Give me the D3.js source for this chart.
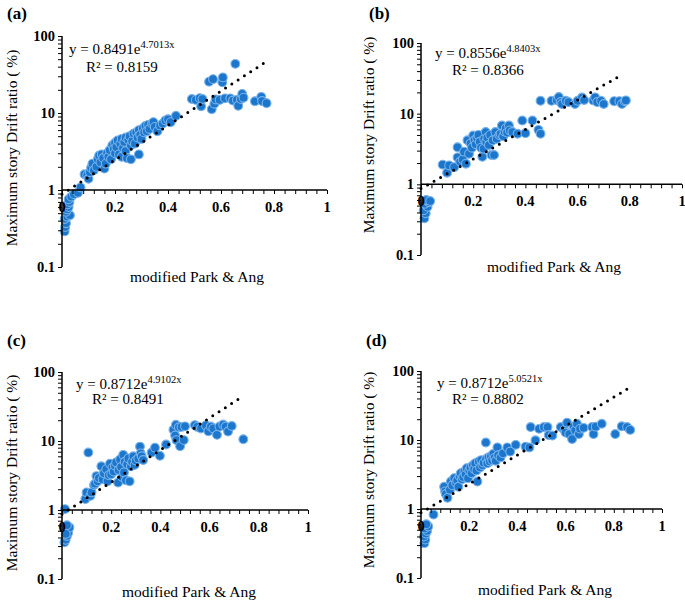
<!DOCTYPE html>
<html><head><meta charset="utf-8">
<script src="https://cdn.jsdelivr.net/npm/d3@7"></script>
<style>body{margin:0;background:#fff}svg{display:block}</style>
</head><body><svg id="c" width="685" height="601"></svg>
<script>
// ---------- data ----------
const panelLabels = ["(a)", "(b)", "(c)", "(d)"];
const eqCoef = ["0.8491", "0.8556", "0.8712", "0.8712"];
const eqExp = ["4.7013x", "4.8403x", "4.9102x", "5.0521x"];
const r2Vals = ["0.8159", "0.8366", "0.8491", "0.8802"];
const xTicks = [0, 0.2, 0.4, 0.6, 0.8, 1];
const xTickLabels = ["0", "0.2", "0.4", "0.6", "0.8", "1"];
const yTicks = [0.1, 1, 10, 100];
const yTickLabels = ["0.1", "1", "10", "100"];
const yTitle = "Maximum story Drift ratio ( %)";
const xTitle = "modified Park & Ang";
// trend line endpoints as drawn [x, y]
const trendA = [[0, 0.88], [0.76, 44]];
const trendB = [[0, 0.87], [0.77, 35.5]];
const trendC = [[0, 0.87], [0.737, 45]];
const trendD = [[0, 0.88], [0.868, 58]];

const aPts = [[0.01,0.29],[0.012,0.33],[0.015,0.37],[0.01,0.42],[0.02,0.45],[0.03,0.47],[0.015,0.52],[0.02,0.56],[0.025,0.6],[0.02,0.65],[0.028,0.7],[0.025,0.76],[0.035,0.82],[0.045,0.88],[0.06,0.92],[0.07,1.08],
[0.085,1.6],[0.095,1.55],[0.1,1.4],[0.105,1.7],[0.11,1.95],[0.115,2.2],[0.12,1.8],[0.13,2.0],[0.135,2.5],[0.14,2.8],[0.145,2.3],[0.15,2.9],[0.155,2.6],[0.16,1.9],[0.165,2.2],[0.17,3.0],[0.175,2.7],[0.18,3.3],[0.185,2.5],[0.19,3.8],[0.195,3.4],[0.2,4.1],[0.2,3.0],[0.205,3.6],[0.21,4.4],[0.215,2.9],[0.22,4.0],[0.225,4.6],[0.225,2.7],[0.23,3.5],[0.235,4.2],[0.24,4.8],[0.24,3.2],[0.245,2.6],[0.25,4.5],[0.255,5.0],[0.26,3.8],[0.26,2.5],[0.265,4.3],[0.27,5.4],[0.275,4.0],[0.28,5.6],[0.285,4.8],[0.29,2.9],[0.29,6.0],[0.295,5.2],[0.3,4.6],[0.305,6.3],[0.31,5.6],[0.315,6.8],[0.32,5.8],[0.325,7.0],[0.33,6.2],[0.34,7.3],[0.345,7.6],[0.35,6.6],[0.36,5.8],[0.37,6.9],[0.38,7.3],[0.39,8.0],[0.4,8.3],[0.41,7.6],[0.43,9.2],
[0.49,15.2],[0.505,14.8],[0.52,15.6],[0.525,12.2],[0.53,15.2],[0.555,25.5],[0.565,11.2],[0.57,27.5],[0.575,13.2],[0.58,15.0],[0.595,14.8],[0.605,25.0],[0.607,29.0],[0.615,15.5],[0.635,15.5],[0.645,14.5],[0.654,43.5],[0.66,14.8],[0.665,12.4],[0.675,15.2],[0.68,17.7],[0.685,15.8],[0.728,14.2],[0.752,16.2],[0.755,14.3],[0.772,13.4]];

const bPts = [[0.013,0.33],[0.018,0.39],[0.01,0.43],[0.025,0.48],[0.015,0.53],[0.03,0.56],[0.02,0.6],[0.035,0.58],
[0.083,1.9],[0.1,1.46],[0.108,1.85],[0.127,1.75],[0.14,2.4],[0.14,3.35],[0.15,2.1],[0.16,2.25],[0.165,2.9],[0.172,1.96],[0.178,4.2],[0.184,2.7],[0.19,3.8],[0.195,3.3],[0.2,4.9],[0.205,4.2],[0.21,3.7],[0.215,4.5],[0.22,5.0],[0.225,4.0],[0.23,3.3],[0.235,2.45],[0.24,3.2],[0.242,4.4],[0.248,5.5],[0.25,4.0],[0.254,4.6],[0.26,3.6],[0.265,5.0],[0.27,2.6],[0.275,4.2],[0.28,2.6],[0.285,5.5],[0.29,4.4],[0.3,5.0],[0.305,5.2],[0.31,6.8],[0.315,4.8],[0.32,5.6],[0.325,6.2],[0.33,5.4],[0.337,6.8],[0.34,5.8],[0.35,5.5],[0.37,5.2],[0.388,8.0],[0.4,5.3],[0.427,8.0],[0.45,5.9],[0.458,5.2],
[0.458,15.2],[0.5,15.2],[0.52,15.6],[0.528,17.2],[0.535,14.6],[0.54,13.7],[0.555,15.2],[0.565,14.6],[0.59,13.7],[0.6,15.2],[0.617,16.9],[0.625,15.6],[0.66,15.4],[0.667,17.0],[0.675,14.6],[0.69,15.2],[0.7,13.7],[0.74,15.0],[0.76,15.0],[0.77,13.7],[0.78,15.0],[0.785,15.4]];

const cPts = [[0.012,1.03],[0.01,0.34],[0.015,0.37],[0.02,0.42],[0.025,0.47],[0.018,0.52],[0.03,0.56],[0.02,0.6],[0.015,0.45],
[0.107,6.8],[0.095,1.44],[0.1,1.8],[0.115,1.6],[0.12,1.8],[0.13,2.3],[0.134,2.4],[0.14,3.1],[0.145,2.6],[0.15,2.9],[0.16,4.3],[0.165,2.8],[0.17,3.4],[0.18,3.9],[0.185,2.6],[0.19,3.2],[0.195,4.7],[0.2,3.3],[0.205,4.1],[0.21,3.6],[0.215,4.4],[0.22,4.9],[0.228,2.5],[0.23,3.8],[0.236,5.4],[0.24,4.2],[0.245,3.0],[0.249,6.3],[0.252,3.5],[0.255,5.0],[0.26,2.7],[0.265,4.6],[0.27,5.6],[0.275,2.6],[0.28,4.3],[0.285,5.0],[0.29,6.0],[0.295,4.5],[0.3,5.2],[0.31,5.6],[0.317,8.3],[0.32,6.6],[0.324,6.0],[0.33,5.3],[0.364,6.8],[0.378,8.0],[0.398,6.1],[0.423,8.9],
[0.453,14.6],[0.46,12.0],[0.463,17.2],[0.465,10.3],[0.475,15.8],[0.48,8.4],[0.486,16.0],[0.495,10.3],[0.5,16.3],[0.54,17.0],[0.55,16.0],[0.565,15.2],[0.585,16.8],[0.595,13.8],[0.605,16.2],[0.615,15.2],[0.63,12.3],[0.64,16.2],[0.655,17.3],[0.665,16.2],[0.675,13.7],[0.69,16.5],[0.737,10.6]];

const dPts = [[0.014,0.32],[0.018,0.36],[0.012,0.4],[0.02,0.44],[0.025,0.48],[0.015,0.52],[0.03,0.56],[0.022,0.6],[0.052,0.83],
[0.096,2.1],[0.1,1.8],[0.103,1.65],[0.11,1.45],[0.12,1.9],[0.124,2.5],[0.13,2.2],[0.138,2.8],[0.145,2.4],[0.15,2.6],[0.155,2.1],[0.16,3.0],[0.165,3.3],[0.17,2.7],[0.175,2.9],[0.18,3.5],[0.185,3.2],[0.19,3.9],[0.195,2.8],[0.2,3.6],[0.205,4.0],[0.21,3.3],[0.215,4.3],[0.22,3.8],[0.225,4.6],[0.23,3.6],[0.234,2.5],[0.24,4.9],[0.245,4.0],[0.25,5.1],[0.255,4.3],[0.26,4.7],[0.269,9.2],[0.27,5.3],[0.275,4.6],[0.28,5.6],[0.285,4.9],[0.29,5.8],[0.295,5.1],[0.3,6.3],[0.305,5.5],[0.31,5.0],[0.317,7.8],[0.32,6.0],[0.33,5.6],[0.34,6.4],[0.358,7.8],[0.37,6.8],[0.393,8.5],[0.434,8.0],[0.45,7.8],
[0.455,15.4],[0.475,9.9],[0.49,14.5],[0.51,15.4],[0.525,15.4],[0.53,11.8],[0.545,11.6],[0.58,15.4],[0.595,14.0],[0.6,12.8],[0.606,17.8],[0.615,12.2],[0.627,10.3],[0.634,15.6],[0.64,13.8],[0.647,17.2],[0.655,12.2],[0.66,14.6],[0.675,15.0],[0.71,15.4],[0.716,12.2],[0.725,15.6],[0.75,17.2],[0.806,12.2],[0.833,15.8],[0.855,15.4],[0.868,14.0]];

// ---------- layout ----------
const layout = [
  {pts:aPts, trend:trendA, x0:62, x1:327, yTop:36, yBot:267, lab:[7,19], eq:[69,54], r2:[86,72], yt:[17,148], xt:[197,282]},
  {pts:bPts, trend:trendB, x0:421, x1:682, yTop:43, yBot:255, lab:[369,19], eq:[435,58], r2:[452,75], yt:[374,135], xt:[554,272]},
  {pts:cPts, trend:trendC, x0:62, x1:308, yTop:372, yBot:579, lab:[7,346], eq:[76,389], r2:[92,404], yt:[17,473], xt:[189,597]},
  {pts:dPts, trend:trendD, x0:421, x1:662, yTop:371, yBot:578, lab:[366,346], eq:[437,388], r2:[452,404], yt:[374,470], xt:[545,595]}
];

const svg = d3.select("#c");
svg.append("rect").attr("width",685).attr("height",601).attr("fill","#fff");
const FONT = "'Liberation Serif','Times New Roman',serif";

layout.forEach((L, i) => {
  const g = svg.append("g");
  const x = d3.scaleLinear().domain([0,1]).range([L.x0, L.x1]);
  const y = d3.scaleLog().domain([0.1,100]).range([L.yBot, L.yTop]);
  const y1 = y(1);

  // points
  g.append("g").selectAll("circle").data(L.pts).join("circle")
    .attr("cx", d => x(d[0])).attr("cy", d => y(d[1])).attr("r", 4.4)
    .attr("fill", "#1c77cc").attr("stroke", "#78b2ea").attr("stroke-width", 1.1);

  // x axis (crosses at y = 1)
  const minorX = d3.range(0, 25).map(k => k*0.04).concat([1]);
  const xa = g.append("g").attr("transform", `translate(0,${y1})`)
    .call(d3.axisBottom(x).tickValues(minorX).tickSize(4).tickFormat(""));
  xa.select(".domain").attr("stroke","#000").attr("stroke-width",1.5).attr("d", `M${L.x0},0H${L.x1}`);
  xa.selectAll(".tick line").attr("stroke","#000").attr("stroke-width",1);
  g.append("g").selectAll("text").data(xTicks).join("text")
    .attr("x", d => x(d)).attr("y", y1 + 22).attr("text-anchor","middle")
    .attr("font-family", FONT).attr("font-weight","bold").attr("font-size", 14.5)
    .text((d,j) => xTickLabels[j]);

  // y axis
  const minorY = [];
  [0.1,1,10].forEach(dec => { for (let k=2;k<=9;k++) minorY.push(k*dec); });
  const ya = g.append("g").attr("transform", `translate(${L.x0},0)`)
    .call(d3.axisLeft(y).tickValues(minorY.concat(yTicks)).tickSize(4).tickFormat(""));
  ya.select(".domain").attr("stroke","#000").attr("stroke-width",1.5).attr("d", `M0,${L.yTop}V${L.yBot}`);
  ya.selectAll(".tick line").attr("stroke","#000").attr("stroke-width",1);
  g.append("g").selectAll("text").data(yTicks).join("text")
    .attr("x", L.x0 - 7).attr("y", d => y(d) + 5).attr("text-anchor","end")
    .attr("font-family", FONT).attr("font-weight","bold").attr("font-size", 14.5)
    .text((d,j) => yTickLabels[j]);

  // trend line
  g.append("path").datum(L.trend)
    .attr("d", d3.line().x(d => x(d[0])).y(d => y(d[1])))
    .attr("fill","none").attr("stroke","#000").attr("stroke-width",3)
    .attr("stroke-linecap","round").attr("stroke-dasharray","0 7.5");

  // equation
  const eq = g.append("text").attr("x", L.eq[0]).attr("y", L.eq[1])
    .attr("font-family", FONT).attr("font-size", 15);
  eq.append("tspan").text(`y = ${eqCoef[i]}e`);
  eq.append("tspan").attr("dy", -6).attr("font-size", 10.5).text(eqExp[i]);
  g.append("text").attr("x", L.r2[0]).attr("y", L.r2[1])
    .attr("font-family", FONT).attr("font-size", 15).text(`R² = ${r2Vals[i]}`);

  // titles
  g.append("text").attr("transform", `translate(${L.yt[0]},${L.yt[1]}) rotate(-90)`)
    .attr("text-anchor","middle").attr("font-family", FONT).attr("font-size", 15.5).text(yTitle);
  g.append("text").attr("x", L.xt[0]).attr("y", L.xt[1]).attr("text-anchor","middle")
    .attr("font-family", FONT).attr("font-size", 15.5).text(xTitle);

  // panel label
  g.append("text").attr("x", L.lab[0]).attr("y", L.lab[1])
    .attr("font-family", FONT).attr("font-weight","bold").attr("font-size", 17).text(panelLabels[i]);
});
</script></body></html>
